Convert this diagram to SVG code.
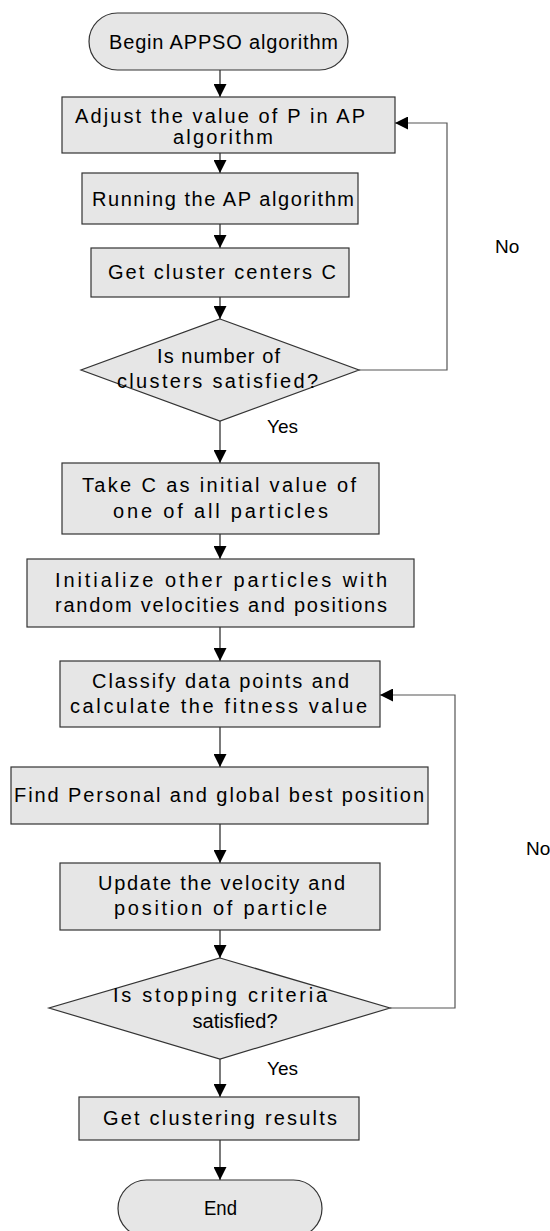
<svg xmlns="http://www.w3.org/2000/svg" width="550" height="1231" viewBox="0 0 550 1231">
<style>
.n{fill:#e6e6e6;stroke:#333;stroke-width:1.2}
.t{font-family:"Liberation Sans",Arial,sans-serif;font-size:20px;fill:#000;text-anchor:middle}
.l{font-family:"Liberation Sans",Arial,sans-serif;font-size:19px;fill:#000}
.c{fill:none;stroke:#222;stroke-width:1.2}
.lp{fill:none;stroke:#555;stroke-width:1.2}
</style>
<defs>
<marker id="ah" markerUnits="userSpaceOnUse" markerWidth="14" markerHeight="13" refX="13" refY="6.5" orient="auto">
<path d="M0,0 L13,6.5 L0,13 z" fill="#000"/>
</marker>
</defs>
<rect width="550" height="1231" fill="#fff"/>
<g id="connectors">
<line class="c" x1="220" y1="70" x2="220" y2="97" marker-end="url(#ah)"/>
<line class="c" x1="220" y1="153" x2="220" y2="173" marker-end="url(#ah)"/>
<line class="c" x1="220" y1="224" x2="220" y2="248" marker-end="url(#ah)"/>
<line class="c" x1="220" y1="297" x2="220" y2="319" marker-end="url(#ah)"/>
<line class="c" x1="220" y1="421" x2="220" y2="463" marker-end="url(#ah)"/>
<line class="c" x1="220" y1="534" x2="220" y2="559" marker-end="url(#ah)"/>
<line class="c" x1="220" y1="627" x2="220" y2="661" marker-end="url(#ah)"/>
<line class="c" x1="220" y1="727" x2="220" y2="767" marker-end="url(#ah)"/>
<line class="c" x1="220" y1="824" x2="220" y2="863" marker-end="url(#ah)"/>
<line class="c" x1="220" y1="930" x2="220" y2="958" marker-end="url(#ah)"/>
<line class="c" x1="220" y1="1059" x2="220" y2="1097" marker-end="url(#ah)"/>
<line class="c" x1="220" y1="1140" x2="220" y2="1180" marker-end="url(#ah)"/>
<polyline class="lp" points="359,370 447,370 447,123 395,123" marker-end="url(#ah)"/>
<polyline class="lp" points="390,1008 455,1008 455,695 380,695" marker-end="url(#ah)"/>
<text class="l" x="267" y="433">Yes</text>
<text class="l" x="495" y="253">No</text>
<text class="l" x="267" y="1075">Yes</text>
<text class="l" x="526" y="855">No</text>
</g>
<g id="begin">
<rect class="n" x="89" y="13" width="259" height="57" rx="28.5"/>
<text class="t" x="223.5" y="49" textLength="229" lengthAdjust="spacing">Begin APPSO algorithm</text>
</g>
<g id="adjust">
<rect class="n" x="62" y="97" width="333" height="56"/>
<text class="t" x="220" y="123" textLength="290" lengthAdjust="spacing">Adjust the value of P in AP</text>
<text class="t" x="223" y="144" textLength="100" lengthAdjust="spacing">algorithm</text>
</g>
<g id="running">
<rect class="n" x="82" y="173" width="276" height="51"/>
<text class="t" x="223" y="206" textLength="262" lengthAdjust="spacing">Running the AP algorithm</text>
</g>
<g id="getcenters">
<rect class="n" x="91" y="248" width="258" height="49"/>
<text class="t" x="222" y="279" textLength="228" lengthAdjust="spacing">Get cluster centers C</text>
</g>
<g id="decision1">
<polygon class="n" points="220,319 359,370 220,421 81,370"/>
<text class="t" x="218.5" y="363" textLength="123" lengthAdjust="spacing">Is number of</text>
<text class="t" x="217.5" y="388" textLength="201" lengthAdjust="spacing">clusters satisfied?</text>
</g>
<g id="takec">
<rect class="n" x="62" y="463" width="317" height="71"/>
<text class="t" x="219" y="492" textLength="274" lengthAdjust="spacing">Take C as initial value of</text>
<text class="t" x="220.5" y="518" textLength="215" lengthAdjust="spacing">one of all particles</text>
</g>
<g id="initialize">
<rect class="n" x="27" y="559" width="387" height="68"/>
<text class="t" x="221" y="587" textLength="332" lengthAdjust="spacing">Initialize other particles with</text>
<text class="t" x="221" y="612" textLength="332" lengthAdjust="spacing">random velocities and positions</text>
</g>
<g id="classify">
<rect class="n" x="60" y="661" width="320" height="66"/>
<text class="t" x="220.5" y="688" textLength="257" lengthAdjust="spacing">Classify data points and</text>
<text class="t" x="218.5" y="713" textLength="297" lengthAdjust="spacing">calculate the fitness value</text>
</g>
<g id="findbest">
<rect class="n" x="11" y="767" width="417" height="57"/>
<text class="t" x="219" y="802" textLength="410" lengthAdjust="spacing">Find Personal and global best position</text>
</g>
<g id="update">
<rect class="n" x="60" y="863" width="320" height="67"/>
<text class="t" x="221.5" y="890" textLength="247" lengthAdjust="spacing">Update the velocity and</text>
<text class="t" x="220.5" y="915" textLength="213" lengthAdjust="spacing">position of particle</text>
</g>
<g id="decision2">
<polygon class="n" points="220,958 390,1008 220,1059 49,1008"/>
<text class="t" x="220" y="1002" textLength="214" lengthAdjust="spacing">Is stopping criteria</text>
<text class="t" x="235" y="1028" textLength="85" lengthAdjust="spacing">satisfied?</text>
</g>
<g id="results">
<rect class="n" x="79" y="1097" width="280" height="43"/>
<text class="t" x="220" y="1125" textLength="234" lengthAdjust="spacing">Get clustering results</text>
</g>
<g id="end">
<rect class="n" x="118" y="1180" width="204" height="57" rx="28.5"/>
<text class="t" x="220.5" y="1215" textLength="33" lengthAdjust="spacingAndGlyphs">End</text>
</g>
</svg>
